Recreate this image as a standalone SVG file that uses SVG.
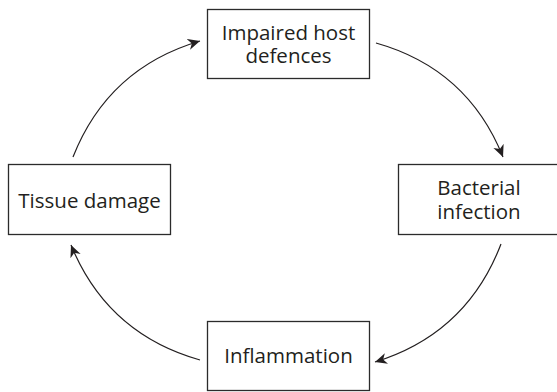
<svg xmlns="http://www.w3.org/2000/svg" width="557" height="392" viewBox="0 0 557 392">
<style>
.box{fill:#fff;stroke:#2b2b2b;stroke-width:1.3}
.lbl{font-family:"Open Sans","Noto Sans","Liberation Sans",sans-serif;font-size:20.5px;fill:#231f20;text-anchor:middle}
.arc{fill:none;stroke:#231f20;stroke-width:1.2}
</style>
<defs>
<marker id="ah" markerUnits="userSpaceOnUse" markerWidth="14" markerHeight="12" refX="12" refY="5.5" orient="auto">
<path d="M0,0 L12,5.5 L0,11 L3.5,5.5 z" fill="#231f20"/>
</marker>
</defs>
<rect width="557" height="392" fill="#fff"/>
<g id="connectors">
<path class="arc" d="M376,43 Q467.6,68.8 503,157" marker-end="url(#ah)"/>
<path class="arc" d="M501,244 Q466.7,333.7 375,362" marker-end="url(#ah)"/>
<path class="arc" d="M200,360 Q107.5,333.9 71,245" marker-end="url(#ah)"/>
<path class="arc" d="M73,157 Q108.2,68 200,41" marker-end="url(#ah)"/>
</g>
<g id="impaired">
<rect class="box" x="207.5" y="9.5" width="162" height="69"/>
<text class="lbl" x="288.5" y="40">Impaired host</text>
<text class="lbl" x="288.5" y="63">defences</text>
</g>
<g id="bacterial">
<rect class="box" x="398.5" y="164.5" width="162" height="70"/>
<text class="lbl" x="479" y="195">Bacterial</text>
<text class="lbl" x="479" y="219">infection</text>
</g>
<g id="inflammation">
<rect class="box" x="207.5" y="321.5" width="162" height="69"/>
<text class="lbl" x="288.5" y="363">Inflammation</text>
</g>
<g id="tissue">
<rect class="box" x="8.5" y="164.5" width="162" height="70"/>
<text class="lbl" x="89.5" y="207.5">Tissue damage</text>
</g>
</svg>
